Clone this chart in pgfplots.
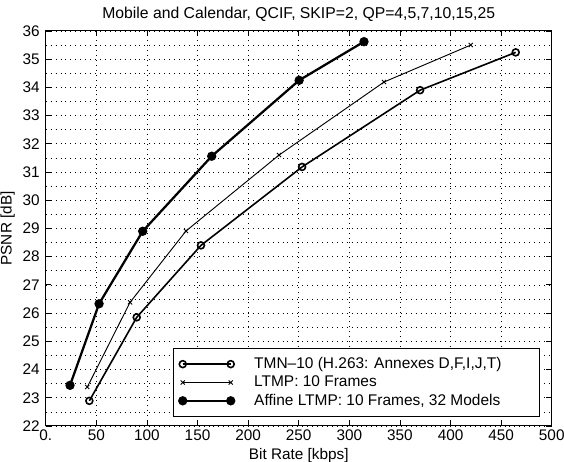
\documentclass[border=0pt]{standalone}
\usepackage{fontspec}
\setmainfont{Liberation Sans}
\usepackage{pgfplots}
\pgfplotsset{compat=1.18}
\begin{document}
\begin{tikzpicture}
\begin{axis}[name=ax,
  scale only axis, width=379.5pt, height=296.25pt,
  xmin=0, xmax=500, ymin=22, ymax=36,
  xtick={0,50,...,500},
  xticklabels={0.,50,100,150,200,250,300,350,400,450,500},
  ytick={22,23,...,36},
  minor y tick num=1,
  minor tick length=0pt,
  major tick length=4pt,
  tick align=inside,
  xtick pos=both, ytick pos=both,
  grid=both,
  major grid style={black, line width=0.45pt, dash pattern=on 0.7pt off 3pt},
  minor grid style={black, line width=0.45pt, dash pattern=on 0.7pt off 3pt},
  axis line style={line width=0.8pt},
  every tick/.style={black, line width=0.6pt},
  /pgf/number format/assume math mode=true,
  tick label style={font=\fontsize{11.5}{13}\selectfont},
  xticklabel style={yshift=1pt},
  yticklabel style={xshift=-1pt},
  xlabel={Bit Rate [kbps]},
  ylabel={PSNR [dB]},
  label style={font=\fontsize{11.5}{13}\selectfont},
  xlabel style={yshift=0.5pt},
  ylabel style={yshift=-1pt},
  title={Mobile and Calendar, QCIF, SKIP=2, QP=4,5,7,10,15,25},
  title style={font=\fontsize{11.8}{13}\selectfont, yshift=-2.5pt},
  legend style={at={(1,0)}, anchor=south east, xshift=-8.8pt, yshift=6.5pt,
    draw=black, line width=0.8pt, fill=white, font=\fontsize{11.6}{13.5}\selectfont,
    row sep=0pt, inner xsep=4.5pt, inner ysep=5pt,
    /tikz/every odd column/.append style={column sep=13pt}},
  legend cell align=left,
  legend image code/.code={\draw[#1] plot coordinates {(0pt,0pt) (36pt,0pt)};},
]
\addplot[black, line width=1.2pt, mark=o, mark size=2.6pt, mark options={line width=1.2pt}]
  coordinates {(43.1,22.89) (89.9,25.85) (153.4,28.4) (253.3,31.18) (369.9,33.9) (464.4,35.24)};
\addlegendentry{TMN--10 (H.263: Annexes D,F,I,J,T)\hspace*{22pt}}
\addplot[black, line width=0.7pt, mark=x, mark size=2.2pt, mark options={line width=0.7pt}]
  coordinates {(41.1,23.38) (83.3,26.38) (138.6,28.91) (230.5,31.6) (334.3,34.19) (420,35.5)};
\addlegendentry{LTMP: 10 Frames}
\addplot[black, line width=1.7pt, mark=*, mark size=2.6pt]
  coordinates {(24,23.44) (52.7,26.33) (95.8,28.9) (164,31.56) (250.4,34.25) (314.5,35.62)};
\addlegendentry{Affine LTMP: 10 Frames, 32 Models}
\end{axis}
\pgfresetboundingbox
\path ([shift={(-34.3pt,-26.5pt)}]ax.south west) rectangle ([shift={(9.2pt,23.2pt)}]ax.north east);
\end{tikzpicture}
\end{document}
